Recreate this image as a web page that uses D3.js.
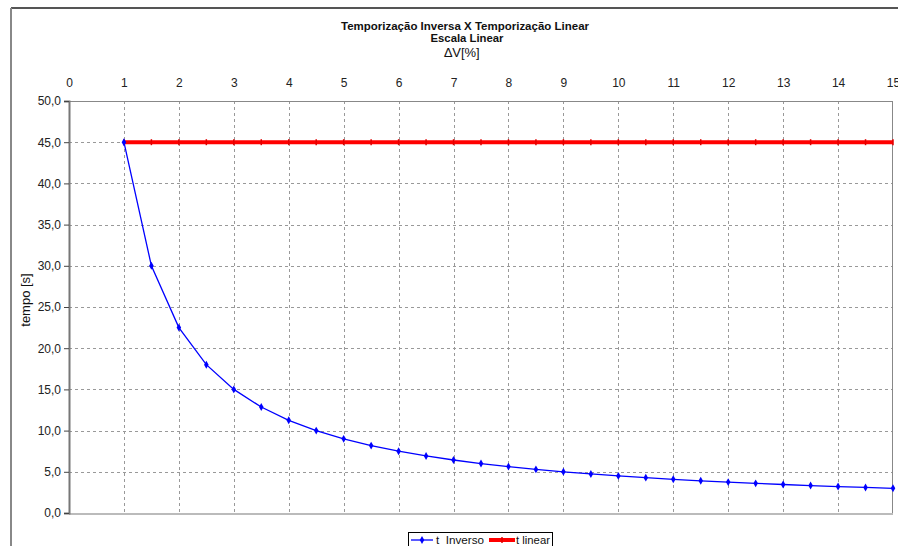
<!DOCTYPE html>
<html>
<head>
<meta charset="utf-8">
<script src="https://cdn.jsdelivr.net/npm/d3@7"></script>
<style>
  body { margin: 0; background: #fff; }
  svg { display: block; font-family: "Liberation Sans", Arial, sans-serif; }
</style>
</head>
<body>
<script>
// dados
var deltaV = [1, 1.5, 2, 2.5, 3, 3.5, 4, 4.5, 5, 5.5, 6, 6.5, 7, 7.5, 8, 8.5, 9, 9.5,
              10, 10.5, 11, 11.5, 12, 12.5, 13, 13.5, 14, 14.5, 15];
var tInverso = [45, 30, 22.5, 18, 15, 12.86, 11.25, 10, 9, 8.18, 7.5, 6.92, 6.43, 6, 5.63,
                5.29, 5, 4.74, 4.5, 4.29, 4.09, 3.91, 3.75, 3.6, 3.46, 3.33, 3.21, 3.1, 3];
var tLinear = [45, 45, 45, 45, 45, 45, 45, 45, 45, 45, 45, 45, 45, 45, 45,
               45, 45, 45, 45, 45, 45, 45, 45, 45, 45, 45, 45, 45, 45];
var xTicks = [0, 1, 2, 3, 4, 5, 6, 7, 8, 9, 10, 11, 12, 13, 14, 15];
var yTicks = [0, 5, 10, 15, 20, 25, 30, 35, 40, 45, 50];
var seriesNames = ['t  Inverso', 't linear'];

var W = 898, H = 546;
var plot = {left: 69, right: 893, top: 101, bottom: 513};

var svg = d3.select('body').append('svg')
  .attr('width', W).attr('height', H);

// moldura externa
svg.append('line').attr('x1', 11).attr('x2', W).attr('y1', 8).attr('y2', 8)
  .attr('stroke', '#555').attr('stroke-width', 2);
svg.append('line').attr('x1', 11).attr('x2', 11).attr('y1', 8).attr('y2', H)
  .attr('stroke', '#888').attr('stroke-width', 2);

var x = d3.scaleLinear().domain([0, 15]).range([plot.left, plot.right]);
var y = d3.scaleLinear().domain([0, 50]).range([plot.bottom, plot.top]);

// grade
svg.append('g').selectAll('line').data(xTicks.slice(1, -1)).enter().append('line')
  .attr('x1', function(d) { return Math.round(x(d)) + 0.5; })
  .attr('x2', function(d) { return Math.round(x(d)) + 0.5; })
  .attr('y1', plot.top).attr('y2', plot.bottom)
  .attr('stroke', '#999').attr('stroke-dasharray', '3,3');
svg.append('g').selectAll('line').data(yTicks.slice(1, -1)).enter().append('line')
  .attr('x1', plot.left).attr('x2', plot.right)
  .attr('y1', function(d) { return Math.round(y(d)) + 0.5; })
  .attr('y2', function(d) { return Math.round(y(d)) + 0.5; })
  .attr('stroke', '#999').attr('stroke-dasharray', '3,3');

// borda da area do grafico
svg.append('line').attr('x1', plot.left).attr('x2', plot.right)
  .attr('y1', plot.top + 0.5).attr('y2', plot.top + 0.5).attr('stroke', '#888');
svg.append('line').attr('x1', plot.right - 0.5).attr('x2', plot.right - 0.5)
  .attr('y1', plot.top).attr('y2', plot.bottom).attr('stroke', '#888');
svg.append('line').attr('x1', plot.left).attr('x2', plot.right)
  .attr('y1', plot.bottom + 1).attr('y2', plot.bottom + 1)
  .attr('stroke', '#bbb').attr('stroke-width', 2);

// eixo y
var yAxis = svg.append('g')
  .attr('transform', 'translate(' + plot.left + ',0)')
  .call(d3.axisLeft(y).tickValues(yTicks).tickSize(5).tickPadding(3)
    .tickFormat(function(d) { return d3.format('.1f')(d).replace('.', ','); }));
yAxis.select('.domain').attr('stroke', '#777').attr('stroke-width', 2);
yAxis.selectAll('.tick line').attr('stroke', '#444');
yAxis.selectAll('text').attr('font-size', 12).attr('fill', '#222')
  .attr('font-family', '"Liberation Sans", Arial, sans-serif');

// eixo x (topo)
var xAxis = svg.append('g')
  .attr('transform', 'translate(0,' + plot.top + ')')
  .call(d3.axisTop(x).tickValues(xTicks).tickSize(0).tickPadding(14));
xAxis.select('.domain').remove();
xAxis.selectAll('text').attr('font-size', 12).attr('fill', '#222')
  .attr('font-family', '"Liberation Sans", Arial, sans-serif');

// titulos
var cx = 465;
svg.append('text').attr('x', cx).attr('y', 30).attr('text-anchor', 'middle')
  .attr('font-size', 11).attr('font-weight', 'bold').attr('fill', '#111')
  .attr('textLength', 248).attr('lengthAdjust', 'spacingAndGlyphs')
  .text('Temporização Inversa X Temporização Linear');
svg.append('text').attr('x', cx + 2).attr('y', 42).attr('text-anchor', 'middle')
  .attr('font-size', 11).attr('font-weight', 'bold').attr('fill', '#111')
  .attr('textLength', 73).attr('lengthAdjust', 'spacingAndGlyphs')
  .text('Escala Linear');
svg.append('text').attr('x', cx - 3).attr('y', 57).attr('text-anchor', 'middle')
  .attr('font-size', 13).attr('fill', '#111')
  .text('\u2206V[%]');
svg.append('text')
  .attr('transform', 'translate(30,300) rotate(-90)')
  .attr('text-anchor', 'middle').attr('font-size', 13).attr('fill', '#111')
  .text('tempo [s]');

// series
var line = d3.line()
  .x(function(d) { return x(d[0]); })
  .y(function(d) { return y(d[1]); });

var linData = d3.zip(deltaV, tLinear);
var invData = d3.zip(deltaV, tInverso);

svg.append('path').datum(linData).attr('d', line)
  .attr('fill', 'none').attr('stroke', '#ff0000').attr('stroke-width', 4);
svg.append('g').selectAll('line').data(linData).enter().append('line')
  .attr('x1', function(d) { return x(d[0]); }).attr('x2', function(d) { return x(d[0]); })
  .attr('y1', function(d) { return y(d[1]) - 3; }).attr('y2', function(d) { return y(d[1]) + 3; })
  .attr('stroke', '#e00000').attr('stroke-width', 1.5);

svg.append('path').datum(invData).attr('d', line)
  .attr('fill', 'none').attr('stroke', '#0000ff').attr('stroke-width', 1.3);
svg.append('g').selectAll('path').data(invData).enter().append('path')
  .attr('d', d3.symbol().type(d3.symbolDiamond).size(18))
  .attr('transform', function(d) { return 'translate(' + x(d[0]) + ',' + y(d[1]) + ')'; })
  .attr('fill', '#0000ff');

// legenda
var leg = svg.append('g');
leg.append('rect').attr('x', 408.5).attr('y', 532.5).attr('width', 144).attr('height', 20)
  .attr('fill', '#fff').attr('stroke', '#000');
leg.append('line').attr('x1', 411).attr('x2', 433).attr('y1', 540).attr('y2', 540)
  .attr('stroke', '#0000ff').attr('stroke-width', 1.3);
leg.append('path').attr('d', d3.symbol().type(d3.symbolDiamond).size(18))
  .attr('transform', 'translate(422,540)').attr('fill', '#0000ff');
leg.append('text').attr('x', 436).attr('y', 544).attr('font-size', 11).attr('fill', '#111')
  .attr('textLength', 48).attr('lengthAdjust', 'spacingAndGlyphs')
  .attr('xml:space', 'preserve').style('white-space', 'pre').text(seriesNames[0]);
leg.append('line').attr('x1', 489).attr('x2', 515).attr('y1', 540).attr('y2', 540)
  .attr('stroke', '#ff0000').attr('stroke-width', 4);
leg.append('line').attr('x1', 502).attr('x2', 502).attr('y1', 537).attr('y2', 543)
  .attr('stroke', '#e00000').attr('stroke-width', 1.5);
leg.append('text').attr('x', 516).attr('y', 544).attr('font-size', 11).attr('fill', '#111')
  .attr('textLength', 34).attr('lengthAdjust', 'spacingAndGlyphs')
  .text(seriesNames[1]);
</script>
</body>
</html>
